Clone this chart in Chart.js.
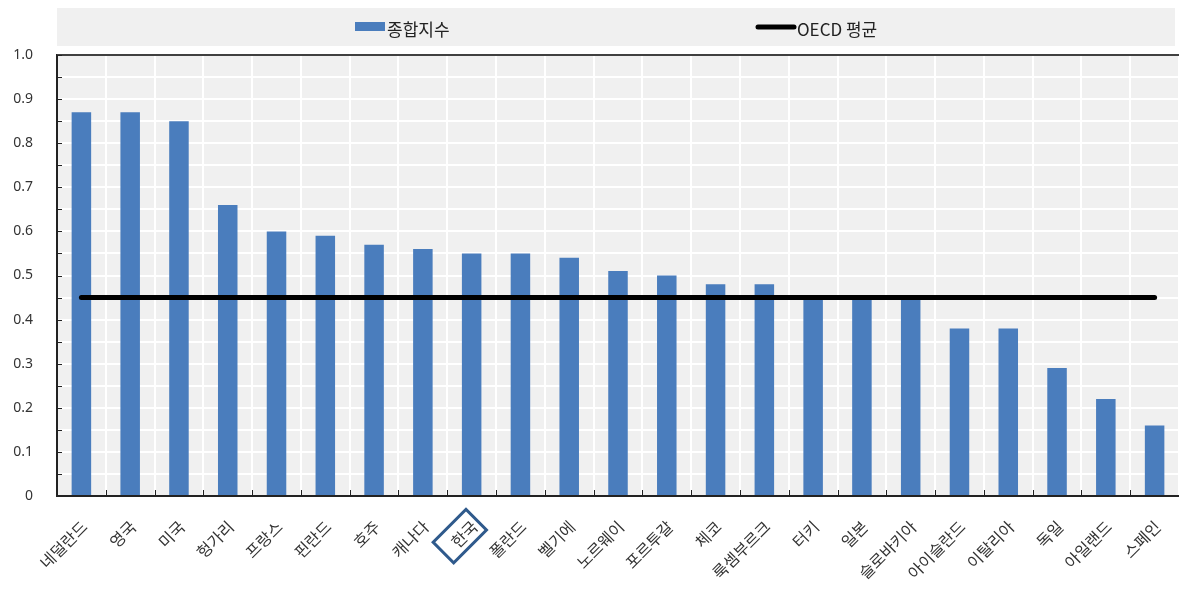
<!DOCTYPE html>
<html><head><meta charset="utf-8">
<script src="https://cdn.jsdelivr.net/npm/chart.js@4.4.1/dist/chart.umd.min.js"></script>
<style>html,body{margin:0;padding:0;background:#fff;}#wrap{width:1179px;height:590px;}</style>
</head><body><div id="wrap"><canvas id="c" width="1179" height="590"></canvas></div>
<script>
const categories = ['네덜란드','영국','미국','헝가리','프랑스','핀란드','호주','캐나다','한국','폴란드','벨기에','노르웨이','포르투갈','체코','룩셈부르크','터키','일본','슬로바키아','아이슬란드','이탈리아','독일','아일랜드','스페인'];
const compositeIndex = [0.87,0.87,0.85,0.66,0.60,0.59,0.57,0.56,0.55,0.55,0.54,0.51,0.50,0.48,0.48,0.45,0.45,0.45,0.38,0.38,0.29,0.22,0.16];
const oecdAverage = 0.45;
const oecdSeries = categories.map(() => oecdAverage);
const highlighted = '한국';
const seriesNames = ['종합지수','OECD 평균'];

const FONT = "'Noto Sans CJK KR','Noto Sans',sans-serif";

const decor = {
  id:'decor',
  beforeDraw(chart){
    const {ctx, chartArea:a} = chart;
    ctx.save();
    ctx.fillStyle = '#f0f0f0';
    ctx.fillRect(a.left, a.top, a.right - a.left, a.bottom - a.top);
    // legend box
    ctx.fillRect(a.left, 8, 1175 - a.left, 38);
    ctx.restore();
  },
  afterDraw(chart){
    const {ctx, chartArea:a, scales} = chart;
    ctx.save();
    // top border
    ctx.strokeStyle = '#404040'; ctx.lineWidth = 2;
    ctx.beginPath(); ctx.moveTo(a.left, a.top); ctx.lineTo(a.right, a.top); ctx.stroke();
    // inner tick marks
    ctx.strokeStyle = '#222'; ctx.lineWidth = 1;
    scales.y.ticks.forEach(t => {
      const y = Math.round(scales.y.getPixelForValue(t.value)) + 0.5;
      ctx.beginPath(); ctx.moveTo(a.left, y); ctx.lineTo(a.left + 5, y); ctx.stroke();
    });
    for (let i = 1; i < categories.length; i++) {
      const x = Math.round((scales.x.getPixelForValue(i - 1) + scales.x.getPixelForValue(i)) / 2) + 0.5;
      ctx.beginPath(); ctx.moveTo(x, a.bottom); ctx.lineTo(x, a.bottom - 6); ctx.stroke();
    }
    // legend
    ctx.font = '17px ' + FONT;
    ctx.textBaseline = 'middle';
    ctx.fillStyle = '#4a7dbd';
    ctx.fillRect(355, 22, 30, 9);
    ctx.fillStyle = '#222';
    ctx.fillText(seriesNames[0], 387, 30);
    ctx.strokeStyle = '#000'; ctx.lineWidth = 5; ctx.lineCap = 'round';
    ctx.beginPath(); ctx.moveTo(758, 27); ctx.lineTo(794, 27); ctx.stroke();
    ctx.fillText(seriesNames[1], 797, 30);
    // highlight box around label
    const idx = categories.indexOf(highlighted);
    const tx = scales.x.getPixelForValue(idx);
    ctx.font = '16px ' + FONT;
    const w = ctx.measureText(highlighted).width;
    ctx.translate(tx, a.bottom + 29);
    ctx.rotate(-Math.PI / 4);
    ctx.strokeStyle = '#2f5a8c'; ctx.lineWidth = 3; ctx.lineCap = 'butt'; ctx.lineJoin = 'miter';
    ctx.strokeRect(-w - 10, -15, w + 17, 29);
    ctx.restore();
  }
};

new Chart(document.getElementById('c'), {
  data: {
    labels: categories,
    datasets: [
      { type:'line', label: seriesNames[1], data: oecdSeries, borderColor:'#000', borderWidth:5, pointRadius:0, borderCapStyle:'round', order:0 },
      { type:'bar', label: seriesNames[0], data: compositeIndex, backgroundColor:'#4a7dbd', barPercentage:0.4, categoryPercentage:1.0, order:1 }
    ]
  },
  options: {
    responsive:false, animation:false,
    layout:{ padding:{ top:55, right:0, left:0, bottom:0 } },
    plugins:{ legend:{ display:false }, tooltip:{ enabled:false } },
    scales:{
      x:{
        grid:{ color:'#ffffff', lineWidth:2, drawTicks:false, offset:true },
        border:{ color:'#222', width:2 },
        ticks:{ font:{ size:16, family:FONT }, color:'#333', maxRotation:45, minRotation:45, padding:21, labelOffset:3, autoSkip:false },
        afterFit(s){ s.height = 94; s.paddingRight = 0; s.paddingLeft = 0; }
      },
      y:{
        min:0, max:1.0,
        grid:{ color:'#ffffff', lineWidth:2, drawTicks:false },
        border:{ color:'#222', width:2 },
        ticks:{ stepSize:0.05, padding:24, font:{ size:14, family:"'Noto Sans',sans-serif" }, color:'#333',
          callback(v){ const k = Math.round(v*100); if (k % 10 !== 0) return ''; return k === 0 ? '0' : (k/100).toFixed(1); } },
        afterFit(s){ s.width = 57; }
      }
    }
  },
  plugins:[decor]
});
</script></body></html>
